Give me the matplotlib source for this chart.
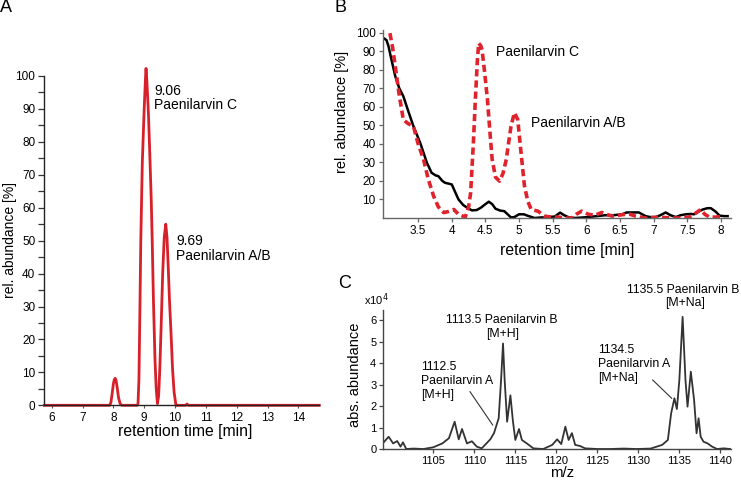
import matplotlib
matplotlib.use("Agg")
import matplotlib.pyplot as plt
from matplotlib.ticker import MultipleLocator

plt.rcParams['font.family'] = ['Liberation Sans', 'DejaVu Sans']

W, H = 741, 483

# ---------------- Panel A data ----------------
a_time = [5.76, 7.88, 7.92, 7.96, 8.00, 8.03, 8.06, 8.09, 8.13, 8.17, 8.22, 8.27,
          8.77, 8.80, 8.83, 8.86, 8.89, 8.94, 9.00, 9.04, 9.06, 9.09, 9.14, 9.19,
          9.23, 9.26, 9.30, 9.35, 9.39, 9.43, 9.47, 9.51, 9.55, 9.60, 9.65, 9.70,
          9.74, 9.78, 9.82, 9.87, 9.92, 9.97, 10.03, 10.35, 10.39, 10.43, 14.68]
a_abund = [0, 0, 0.8, 3.5, 6.5, 7.8, 8.2, 7.5, 5, 2.2, 0.5, 0,
           0, 0.5, 8, 28, 50, 74, 90, 99, 102.3, 98, 88, 74,
           62, 50, 32, 14, 5, 0.5, 3, 12, 24, 40, 51, 55,
           51, 42, 32, 22, 11, 4, 0, 0, 0.4, 0, 0]
a_xticks = [6, 7, 8, 9, 10, 11, 12, 13, 14]
a_yticks = [0, 10, 20, 30, 40, 50, 60, 70, 80, 90, 100]

# ---------------- Panel B data ----------------
b_black_t = [3.00, 3.03, 3.06, 3.10, 3.16, 3.22, 3.28, 3.35, 3.43, 3.53, 3.63, 3.70,
             3.76, 3.80, 3.86, 3.90, 3.96, 4.00, 4.05, 4.10, 4.17, 4.23, 4.30, 4.37,
             4.43, 4.50, 4.55, 4.60, 4.65, 4.72, 4.78, 4.83, 4.88, 4.93, 5.00, 5.07,
             5.13, 5.23, 5.33, 5.43, 5.53, 5.61, 5.67, 5.73, 5.83, 5.95, 6.03, 6.15,
             6.28, 6.40, 6.53, 6.60, 6.70, 6.78, 6.88, 6.95, 7.03, 7.10, 7.18, 7.25,
             7.33, 7.40, 7.48, 7.55, 7.60, 7.67, 7.73, 7.80, 7.85, 7.92, 7.98, 8.05, 8.10]
b_black_y = [96.8, 96, 92.6, 86, 76.5, 70, 65.7, 58, 49.5, 40.6, 29.8, 24.4,
             23, 22.6, 20, 19.0, 18.5, 18.1, 14, 10.0, 7, 5.5, 4.1, 4.3,
             5.5, 7.5, 8.8, 7.5, 5, 4, 3.7, 2, 0.3, 0.5, 2, 2,
             1.2, 0, 0.3, 0.5, 0.8, 2.9, 1.5, 0.5, 0, 0.3, 0.5, 1,
             1.5, 1.5, 2, 3, 3, 3, 1, 0.5, 0.5, 1.5, 3, 1.5,
             0.5, 1.5, 2, 2.2, 2, 3.5, 4.6, 5.3, 5.3, 3.5, 1.3, 1, 1]
b_red_t = [3.08, 3.12, 3.16, 3.22, 3.28, 3.35, 3.43, 3.50, 3.58, 3.65, 3.73, 3.80,
           3.88, 3.95, 4.03, 4.10, 4.20, 4.25, 4.28, 4.32, 4.35, 4.38, 4.40, 4.43,
           4.45, 4.49, 4.53, 4.57, 4.60, 4.65, 4.71, 4.76, 4.81, 4.85, 4.88, 4.93,
           4.98, 5.03, 5.08, 5.13, 5.18, 5.28, 5.38, 5.48, 5.58, 5.70, 5.78, 5.85,
           5.93, 6.03, 6.13, 6.23, 6.30, 6.38, 6.48, 6.58, 6.65, 6.73, 6.80, 6.88,
           7.00, 7.08, 7.18, 7.28, 7.40, 7.53, 7.62, 7.70, 7.76, 7.83, 7.93, 8.03]
b_red_y = [99.8, 92, 81.8, 66, 53, 51, 49.5, 40, 31.6, 21, 11.8, 6,
           2.9, 3.5, 4.6, 2, 0.5, 6, 13.6, 40, 63.9, 85, 94.4, 93,
           90.8, 78, 63.9, 45, 31.6, 22, 19.9, 24, 31.6, 42, 49.5, 56.8,
           53.2, 35, 17.3, 9, 4.6, 3.7, 1, 0.5, 0.5, 0, 0, 2,
           3.7, 2, 1.5, 3, 2, 1, 1.5, 2, 2, 1, 0.5, 0,
           0.3, 0.5, 0.2, 0, 0, 0.5, 2.5, 4.6, 2, 0.5, 0.5, 1]
b_xticks = [3.5, 4, 4.5, 5, 5.5, 6, 6.5, 7, 7.5, 8]
b_xticklabels = ['3.5', '4', '4.5', '5', '5.5', '6', '6.5', '7', '7.5', '8']
b_yticks = [10, 20, 30, 40, 50, 60, 70, 80, 90, 100]

# ---------------- Panel C data ----------------
c_mz = [1098.9, 1099.55, 1100.1, 1100.6, 1101.0, 1101.3, 1101.7, 1102.6, 1103.8,
        1105.0, 1106.1, 1106.9, 1107.6, 1108.1, 1108.5, 1109.1, 1109.7, 1110.3,
        1110.9, 1111.3, 1111.95, 1112.4, 1112.97, 1113.26, 1113.5, 1113.7, 1114.0,
        1114.4, 1114.7, 1115.0, 1115.45, 1115.8, 1116.4, 1117.2, 1118.4, 1119.5,
        1120.1, 1120.6, 1121.1, 1121.5, 1121.9, 1122.3, 1122.9, 1123.5, 1125.0,
        1126.6, 1128.2, 1129.8, 1131.5, 1132.9, 1133.6, 1134.0, 1134.4, 1134.7,
        1135.0, 1135.4, 1135.75, 1136.0, 1136.4, 1136.8, 1137.1, 1137.35, 1137.6,
        1137.95, 1138.45, 1139.0, 1139.6, 1140.4, 1141.2]
c_abund = [0.29, 0.57, 0.26, 0.37, 0.11, 0.31, 0.0, 0.02, 0.0,
           0.08, 0.26, 0.5, 1.27, 0.45, 0.93, 0.26, 0.36, 0.11,
           0.03, 0.19, 0.45, 0.74, 1.43, 3.2, 4.91, 3.2, 1.27,
           2.5, 1.32, 0.42, 0.93, 0.42, 0.26, 0.03, 0.0, 0.19,
           0.45, 0.23, 1.04, 0.42, 0.74, 0.19, 0.14, 0.03, 0.0,
           0.0, 0.02, 0.0, 0.02, 0.19, 0.42, 1.66, 2.36, 1.86,
           3.2, 6.15, 3.2, 1.97, 3.6, 2.28, 0.73, 1.43, 0.57,
           0.34, 0.26, 0.11, 0.0, 0.03, 0.0]
c_xticks = [1105, 1110, 1115, 1120, 1125, 1130, 1135, 1140]
c_yticks = [0, 1, 2, 3, 4, 5, 6]


def ax_rect(l, t, r, b):
    return [l / W, 1 - b / H, (r - l) / W, (b - t) / H]


def fpos(x, y):
    return x / W, 1 - y / H


fig = plt.figure(figsize=(W / 100, H / 100), dpi=100)

red = '#d7202a'

# ---------------- Panel A ----------------
axA = fig.add_axes(ax_rect(44.3, 76, 319.3, 405.3))
axA.plot(a_time, a_abund, color=red, lw=2.0, clip_on=False)
axA.set_xlim(5.76, 14.68)
axA.set_ylim(0, 100)
axA.set_xticks(a_xticks)
axA.set_yticks(a_yticks)
axA.yaxis.set_minor_locator(MultipleLocator(5))
for s in ['top', 'right']:
    axA.spines[s].set_visible(False)
for s in ['left', 'bottom']:
    axA.spines[s].set_color('#222222')
    axA.spines[s].set_linewidth(1.0)
axA.tick_params(axis='y', which='both', direction='out', length=4.5, width=0.9,
                pad=2, labelsize=8.5, color='#333333')
axA.tick_params(axis='x', direction='out', length=2.5, width=0.8, pad=2.5,
                labelsize=8.5, color='#555555')
axA.text(9.32, 95.5, '9.06', fontsize=10, va='center', ha='left')
axA.text(9.32, 91.1, 'Paenilarvin C', fontsize=10, va='center', ha='left')
axA.text(10.03, 49.9, '9.69', fontsize=10, va='center', ha='left')
axA.text(10.03, 45.4, 'Paenilarvin A/B', fontsize=10, va='center', ha='left')
fig.text(*fpos(185, 431.7), 'retention time [min]', fontsize=11.3, ha='center', va='center')
fig.text(*fpos(10, 240), 'rel. abundance [%]', fontsize=10, ha='center', va='center',
         rotation=90)

# ---------------- Panel B ----------------
axB = fig.add_axes(ax_rect(382.5, 30, 731, 218))
axB.plot(b_black_t, b_black_y, color='black', lw=1.8)
axB.plot(b_red_t, b_red_y, color='#e0222c', lw=2.6, linestyle=(0, (2, 1.1)))
axB.set_xlim(2.97, 8.15)
axB.set_ylim(0, 101.5)
axB.set_xticks(b_xticks)
axB.set_xticklabels(b_xticklabels)
axB.set_yticks(b_yticks)
for s in ['top', 'right']:
    axB.spines[s].set_visible(False)
for s in ['left', 'bottom']:
    axB.spines[s].set_color('#666666')
    axB.spines[s].set_linewidth(1.0)
axB.tick_params(axis='both', direction='out', length=3, width=0.9, pad=2,
                labelsize=8.5, color='#666666')
axB.text(4.66, 89.4, 'Paenilarvin C', fontsize=10, va='center', ha='left')
axB.text(5.18, 51.2, 'Paenilarvin A/B', fontsize=10, va='center', ha='left')
fig.text(*fpos(566.7, 250), 'retention time [min]', fontsize=11.3, ha='center', va='center')
fig.text(*fpos(341.7, 111.7), 'rel. abundance [%]', fontsize=10.5, ha='center',
         va='center', rotation=90)

# ---------------- Panel C ----------------
axC = fig.add_axes(ax_rect(383.3, 310, 731, 449))
axC.plot(c_mz, c_abund, color='#333333', lw=1.3)
axC.set_xlim(1098.9, 1141.3)
axC.set_ylim(0, 6.47)
axC.set_xticks(c_xticks)
axC.set_yticks(c_yticks)
for s in ['top', 'right']:
    axC.spines[s].set_visible(False)
for s in ['left', 'bottom']:
    axC.spines[s].set_color('#444444')
    axC.spines[s].set_linewidth(1.0)
axC.tick_params(axis='both', direction='out', length=3, width=0.9, pad=2,
                labelsize=8, color='#444444')

fs_c = 8.8
fig.text(*fpos(501.7, 320), '1113.5 Paenilarvin B', fontsize=fs_c, ha='center', va='center')
fig.text(*fpos(502.7, 334), '[M+H]', fontsize=fs_c, ha='center', va='center')
for yy, t in zip([366.7, 380.7, 395], ['1112.5', 'Paenilarvin A', '[M+H]']):
    fig.text(*fpos(420.7, yy), t, fontsize=fs_c, ha='left', va='center')
for yy, t in zip([350, 364, 378.3], ['1134.5', 'Paenilarvin A', '[M+Na]']):
    fig.text(*fpos(598.3, yy), t, fontsize=fs_c, ha='left', va='center')
fig.text(*fpos(683, 290), '1135.5 Paenilarvin B', fontsize=fs_c, ha='center', va='center')
fig.text(*fpos(685, 303.3), '[M+Na]', fontsize=fs_c, ha='center', va='center')
fig.add_artist(plt.Line2D([470 / W, 492.7 / W], [1 - 391.7 / H, 1 - 425 / H],
                          color='#333333', lw=0.8))
fig.add_artist(plt.Line2D([652.7 / W, 671.7 / W], [1 - 380 / H, 1 - 398.3 / H],
                          color='#333333', lw=0.8))
fig.text(*fpos(364, 300), r'x10$^{4}$', fontsize=8, ha='left', va='center')
fig.text(*fpos(561.7, 473.3), 'm/z', fontsize=10.7, ha='center', va='center')
fig.text(*fpos(355, 375), 'abs. abundance', fontsize=10.5, ha='center', va='center',
         rotation=90)

fig.text(*fpos(6, 8), 'A', fontsize=13, ha='center', va='center')
fig.text(*fpos(340, 7), 'B', fontsize=13, ha='center', va='center')
fig.text(*fpos(345, 284), 'C', fontsize=13, ha='center', va='center')

fig.savefig('out.png', dpi=100)
